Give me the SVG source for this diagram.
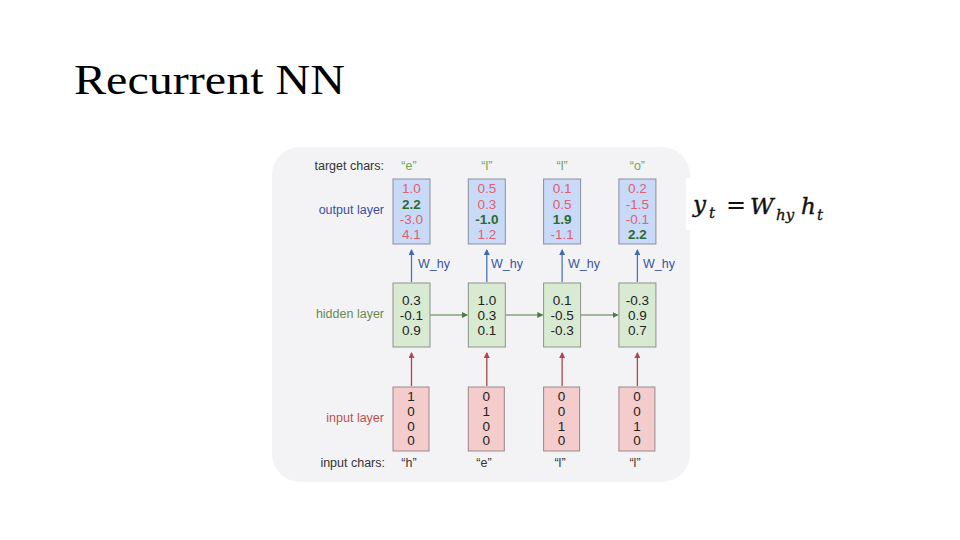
<svg xmlns="http://www.w3.org/2000/svg" width="960" height="540" viewBox="0 0 960 540">
<defs>
<marker id="ab" markerWidth="6" markerHeight="6" refX="5" refY="3" orient="auto" markerUnits="userSpaceOnUse"><path d="M0,0 L6,3 L0,6 z" fill="#3d6db0"/></marker>
<marker id="ar" markerWidth="6" markerHeight="6" refX="5" refY="3" orient="auto" markerUnits="userSpaceOnUse"><path d="M0,0 L6,3 L0,6 z" fill="#b0454a"/></marker>
<marker id="ag" markerWidth="6" markerHeight="6" refX="5" refY="3" orient="auto" markerUnits="userSpaceOnUse"><path d="M0,0 L6,3 L0,6 z" fill="#4f7a40"/></marker>
<style>
text{font-family:"Liberation Sans",Arial,sans-serif;font-size:12.5px}
.lbl{text-anchor:end}
.c{text-anchor:middle}
.n{font-size:13.5px}
.out rect{fill:#c9daf8;stroke:#8a8f99;stroke-width:1}
.hid rect{fill:#d9ead3;stroke:#8a9488;stroke-width:1}
.inp rect{fill:#f4cccc;stroke:#9a8888;stroke-width:1}
.r{fill:#e0606e}
.g{fill:#2f6b2f;font-weight:bold}
.k{fill:#222}
.w{fill:#3a55a0}
.bl{stroke:#4a77b4;stroke-width:1.3}
.rd{stroke:#b0454a;stroke-width:1.3}
.gr{stroke:#4f7a40;stroke-width:1}
.m{font-family:"DejaVu Serif","Liberation Serif",serif;font-style:italic;font-size:23px;fill:#111;stroke:#111;stroke-width:0.4}
.s{font-family:"DejaVu Serif","Liberation Serif",serif;font-style:italic;font-size:15px;fill:#111;stroke:#111;stroke-width:0.3}
</style>
</defs>
<rect width="960" height="540" fill="#ffffff"/>
<text x="74" y="94" style="font-family:'Liberation Serif',serif;font-size:42px" textLength="271" lengthAdjust="spacingAndGlyphs" fill="#000">Recurrent NN</text>
<rect x="272" y="147" width="418" height="335" rx="28" fill="#f3f3f5"/>
<rect x="686" y="178" width="150" height="52" fill="#ffffff"/>
<g id="labels">
<text class="lbl" x="384" y="170" fill="#333">target chars:</text>
<text class="lbl" x="384" y="214" fill="#3a4ea0">output layer</text>
<text class="lbl" x="384" y="318" fill="#6a8a50">hidden layer</text>
<text class="lbl" x="384" y="422" fill="#c0504d">input layer</text>
<text class="lbl" x="385" y="467" fill="#333">input chars:</text>
</g>
<g id="targets" fill="#6aa84f">
<text class="c" x="409" y="170">“e”</text>
<text class="c" x="486.8" y="170">“l”</text>
<text class="c" x="562.1" y="170">“l”</text>
<text class="c" x="637.4" y="170">“o”</text>
</g>
<g id="inputs" fill="#333">
<text class="c" x="409" y="467">“h”</text>
<text class="c" x="484" y="467">“e”</text>
<text class="c" x="560" y="467">“l”</text>
<text class="c" x="635" y="467">“l”</text>
</g>
<g id="connectors">
<line class="bl" x1="411.5" y1="282" x2="411.5" y2="250" marker-end="url(#ab)"/>
<line class="bl" x1="486.8" y1="282" x2="486.8" y2="250" marker-end="url(#ab)"/>
<line class="bl" x1="562.1" y1="282" x2="562.1" y2="250" marker-end="url(#ab)"/>
<line class="bl" x1="637.4" y1="282" x2="637.4" y2="250" marker-end="url(#ab)"/>
<line class="rd" x1="411.5" y1="386" x2="411.5" y2="353" marker-end="url(#ar)"/>
<line class="rd" x1="486.8" y1="386" x2="486.8" y2="353" marker-end="url(#ar)"/>
<line class="rd" x1="562.1" y1="386" x2="562.1" y2="353" marker-end="url(#ar)"/>
<line class="rd" x1="637.4" y1="386" x2="637.4" y2="353" marker-end="url(#ar)"/>
<line class="gr" x1="430" y1="315" x2="467" y2="315" marker-end="url(#ag)"/>
<line class="gr" x1="505.3" y1="315" x2="542.3" y2="315" marker-end="url(#ag)"/>
<line class="gr" x1="580.6" y1="315" x2="617.6" y2="315" marker-end="url(#ag)"/>
<text class="w" x="418" y="268">W_hy</text>
<text class="w" x="491" y="268">W_hy</text>
<text class="w" x="568" y="268">W_hy</text>
<text class="w" x="643" y="268">W_hy</text>
</g>
<g id="out1" class="out"><rect x="393" y="179" width="37" height="65"/>
<text class="c n r" x="411.5" y="193">1.0</text><text class="c n g" x="411.5" y="208.5">2.2</text><text class="c n r" x="411.5" y="224">-3.0</text><text class="c n r" x="411.5" y="239">4.1</text></g>
<g id="out2" class="out"><rect x="468.3" y="179" width="37" height="65"/>
<text class="c n r" x="486.8" y="193">0.5</text><text class="c n r" x="486.8" y="208.5">0.3</text><text class="c n g" x="486.8" y="224">-1.0</text><text class="c n r" x="486.8" y="239">1.2</text></g>
<g id="out3" class="out"><rect x="543.6" y="179" width="37" height="65"/>
<text class="c n r" x="562.1" y="193">0.1</text><text class="c n r" x="562.1" y="208.5">0.5</text><text class="c n g" x="562.1" y="224">1.9</text><text class="c n r" x="562.1" y="239">-1.1</text></g>
<g id="out4" class="out"><rect x="618.9" y="179" width="37" height="65"/>
<text class="c n r" x="637.4" y="193">0.2</text><text class="c n r" x="637.4" y="208.5">-1.5</text><text class="c n r" x="637.4" y="224">-0.1</text><text class="c n g" x="637.4" y="239">2.2</text></g>
<g id="hid1" class="hid"><rect x="393" y="283" width="37" height="64"/>
<text class="c n k" x="411.5" y="305">0.3</text><text class="c n k" x="411.5" y="320">-0.1</text><text class="c n k" x="411.5" y="335">0.9</text></g>
<g id="hid2" class="hid"><rect x="468.3" y="283" width="37" height="64"/>
<text class="c n k" x="486.8" y="305">1.0</text><text class="c n k" x="486.8" y="320">0.3</text><text class="c n k" x="486.8" y="335">0.1</text></g>
<g id="hid3" class="hid"><rect x="543.6" y="283" width="37" height="64"/>
<text class="c n k" x="562.1" y="305">0.1</text><text class="c n k" x="562.1" y="320">-0.5</text><text class="c n k" x="562.1" y="335">-0.3</text></g>
<g id="hid4" class="hid"><rect x="618.9" y="283" width="37" height="64"/>
<text class="c n k" x="637.4" y="305">-0.3</text><text class="c n k" x="637.4" y="320">0.9</text><text class="c n k" x="637.4" y="335">0.7</text></g>
<g id="in1" class="inp"><rect x="393" y="387" width="36" height="64"/>
<text class="c n k" x="411" y="401">1</text><text class="c n k" x="411" y="416">0</text><text class="c n k" x="411" y="430.5">0</text><text class="c n k" x="411" y="445">0</text></g>
<g id="in2" class="inp"><rect x="468.3" y="387" width="36" height="64"/>
<text class="c n k" x="486.3" y="401">0</text><text class="c n k" x="486.3" y="416">1</text><text class="c n k" x="486.3" y="430.5">0</text><text class="c n k" x="486.3" y="445">0</text></g>
<g id="in3" class="inp"><rect x="543.6" y="387" width="36" height="64"/>
<text class="c n k" x="561.6" y="401">0</text><text class="c n k" x="561.6" y="416">0</text><text class="c n k" x="561.6" y="430.5">1</text><text class="c n k" x="561.6" y="445">0</text></g>
<g id="in4" class="inp"><rect x="618.9" y="387" width="36" height="64"/>
<text class="c n k" x="636.9" y="401">0</text><text class="c n k" x="636.9" y="416">0</text><text class="c n k" x="636.9" y="430.5">1</text><text class="c n k" x="636.9" y="445">0</text></g>
<g id="equation">
<text class="m" x="693" y="212">y</text>
<text class="s" x="709" y="218">t</text>
<text x="726" y="213" style="font-family:'DejaVu Serif',serif;font-size:24px;fill:#111">=</text>
<text class="m" x="750" y="214">W</text>
<text class="s" x="776" y="220">hy</text>
<text class="m" x="801" y="214">h</text>
<text class="s" x="817" y="220">t</text>
</g>
</svg>
